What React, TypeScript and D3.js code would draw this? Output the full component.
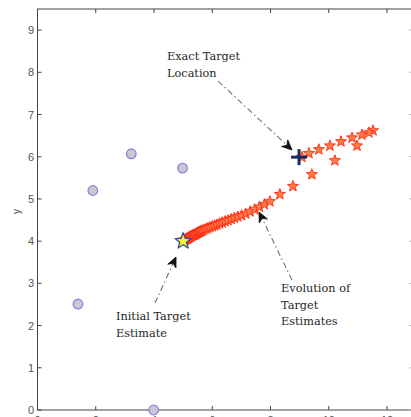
import React from "react";
import * as d3 from "d3";

// Anchor node positions
const anchorX = [1.39, 1.9, 3.22, 4.98, 3.99];
const anchorY = [2.51, 5.2, 6.07, 5.73, 0.0];

// Initial and exact target
const initialEstimate = [5.0, 4.0];
const exactTarget = [8.98, 5.99];

// Evolution of target estimates
const estX = [
  5.02, 5.04, 5.06, 5.08, 5.1, 5.12, 5.14, 5.16, 5.18, 5.2, 5.22, 5.24, 5.26, 5.28, 5.3,
  5.33, 5.36, 5.38, 5.41, 5.43, 5.46, 5.48, 5.51, 5.53, 5.56, 5.59, 5.62, 5.65, 5.71,
  5.78, 5.85, 5.92, 6.0, 6.08, 6.16, 6.25, 6.34, 6.44, 6.54, 6.65, 6.76, 6.88, 7.01, 7.15,
  7.3, 7.46, 7.62, 7.79, 7.98, 8.32, 8.77, 9.42, 10.21, 10.97, 11.52, 11.38, 11.14, 10.8,
  10.42, 10.04, 9.66, 9.32, 9.08,
];
const estY = [
  4.01, 4.02, 4.03, 4.04, 4.045, 4.05, 4.06, 4.07, 4.08, 4.09, 4.095, 4.1, 4.11, 4.12, 4.13,
  4.14, 4.145, 4.15, 4.16, 4.17, 4.18, 4.19, 4.2, 4.21, 4.22, 4.23, 4.24, 4.25, 4.27,
  4.29, 4.31, 4.33, 4.35, 4.37, 4.39, 4.42, 4.44, 4.47, 4.49, 4.52, 4.55, 4.58, 4.61, 4.65,
  4.7, 4.75, 4.81, 4.87, 4.94, 5.11, 5.3, 5.58, 5.91, 6.26, 6.62, 6.57, 6.52, 6.45, 6.36,
  6.26, 6.17, 6.08, 5.99,
];

const xTicks = [0, 2, 4, 6, 8, 10, 12];
const yTicks = [0, 1, 2, 3, 4, 5, 6, 7, 8, 9];

const W = 411;
const H = 417;
const left = 37.5;
const right = 413;
const top = 9;
const bottom = 410;

const x = d3.scaleLinear().domain([0, 12]).range([left, 387]);
const y = d3.scaleLinear().domain([0, 9.5]).range([bottom, top]);

const starPath = (outer: number) => {
  const inner = outer * 0.42;
  const pts: [number, number][] = [];
  for (let i = 0; i < 10; i++) {
    const r = i % 2 === 0 ? outer : inner;
    const a = -Math.PI / 2 + (i * Math.PI) / 5;
    pts.push([r * Math.cos(a), r * Math.sin(a)]);
  }
  return d3.line()(pts) + "Z";
};

type Arrow = { from: [number, number]; to: [number, number] };

function AnnotArrow({ from, to }: Arrow) {
  const [x1, y1] = from;
  const [x2, y2] = to;
  const ang = (Math.atan2(y2 - y1, x2 - x1) * 180) / Math.PI;
  const len = Math.hypot(x2 - x1, y2 - y1);
  return (
    <g transform={`translate(${x1},${y1}) rotate(${ang})`}>
      <line
        x1={0}
        y1={0}
        x2={len - 4}
        y2={0}
        stroke="#666"
        strokeWidth={1}
        strokeDasharray="6 3 1.5 3"
      />
      <path
        d={`M${len},0 L${len - 10},-4.5 L${len - 7},0 L${len - 10},4.5 Z`}
        fill="#111"
        stroke="#111"
        strokeWidth={0.8}
        strokeLinejoin="round"
      />
    </g>
  );
}

export default function App() {
  const serif = "'DejaVu Serif', serif";
  const sans = "'Liberation Sans', Arial, sans-serif";
  return (
    <div style={{ position: "absolute", left: 0, top: 0 }}>
      <svg width={W} height={H} style={{ display: "block", background: "#fff" }}>
        {/* frame */}
        <rect
          x={left}
          y={top}
          width={right - left}
          height={bottom - top}
          fill="none"
          stroke="#444"
          strokeWidth={1}
        />
        {/* inward ticks */}
        {xTicks.map((t) => (
          <g key={"xt" + t}>
            <line x1={x(t)} x2={x(t)} y1={bottom} y2={bottom - 4} stroke="#444" />
            <line x1={x(t)} x2={x(t)} y1={top} y2={top + 4} stroke="#444" />
            <text
              x={x(t)}
              y={bottom + 14}
              textAnchor="middle"
              fontFamily={sans}
              fontSize={11}
              fill="#555"
            >
              {t}
            </text>
          </g>
        ))}
        {yTicks.map((t) => (
          <g key={"yt" + t}>
            <line x1={left} x2={left + 4} y1={y(t)} y2={y(t)} stroke="#444" />
            <line x1={right} x2={right - 4} y1={y(t)} y2={y(t)} stroke="#bbb" />
            <text
              x={34}
              y={y(t) + 4}
              textAnchor="end"
              fontFamily={sans}
              fontSize={11}
              fill="#555"
            >
              {t}
            </text>
          </g>
        ))}
        <text
          transform={`translate(20,${y(4.7)}) rotate(-90)`}
          textAnchor="middle"
          fontFamily={sans}
          fontSize={10}
          fill="#444"
        >
          y
        </text>

        {/* anchors */}
        {anchorX.map((ax, i) => (
          <circle
            key={"a" + i}
            cx={x(ax)}
            cy={y(anchorY[i])}
            r={4.8}
            fill="#c9c9cf"
            stroke="#8a86e0"
            strokeWidth={1.3}
          />
        ))}

        {/* estimate trajectory */}
        {estX.map((ex, i) => (
          <path
            key={"e" + i}
            d={starPath(5.8)}
            transform={`translate(${x(ex)},${y(estY[i])})`}
            fill="#ff7a4a"
            stroke="#ff2a10"
            strokeWidth={0.9}
            strokeLinejoin="round"
          />
        ))}

        {/* initial estimate */}
        <path
          d={starPath(8.5)}
          transform={`translate(${x(initialEstimate[0])},${y(initialEstimate[1])})`}
          fill="#f4f43a"
          stroke="#3a4f86"
          strokeWidth={1.3}
          strokeLinejoin="round"
        />

        {/* exact target */}
        <g transform={`translate(${x(exactTarget[0])},${y(exactTarget[1])})`}>
          <line x1={-8} x2={8} y1={0} y2={0} stroke="#1b2a5e" strokeWidth={3} />
          <line x1={0} x2={0} y1={-8} y2={8} stroke="#1b2a5e" strokeWidth={3} />
        </g>

        {/* annotations */}
        <AnnotArrow from={[218, 81]} to={[292, 150]} />
        <AnnotArrow from={[155, 303]} to={[176, 257]} />
        <AnnotArrow from={[292, 280]} to={[259, 212]} />

        <g fontFamily={serif} fontSize={11.3} fill="#262626">
          <text x={167} y={60}>Exact Target</text>
          <text x={167} y={76.5}>Location</text>
          <text x={116} y={320}>Initial Target</text>
          <text x={116} y={336.5}>Estimate</text>
          <text x={281} y={292}>Evolution of</text>
          <text x={281} y={308.5}>Target</text>
          <text x={281} y={325}>Estimates</text>
        </g>
      </svg>
    </div>
  );
}
